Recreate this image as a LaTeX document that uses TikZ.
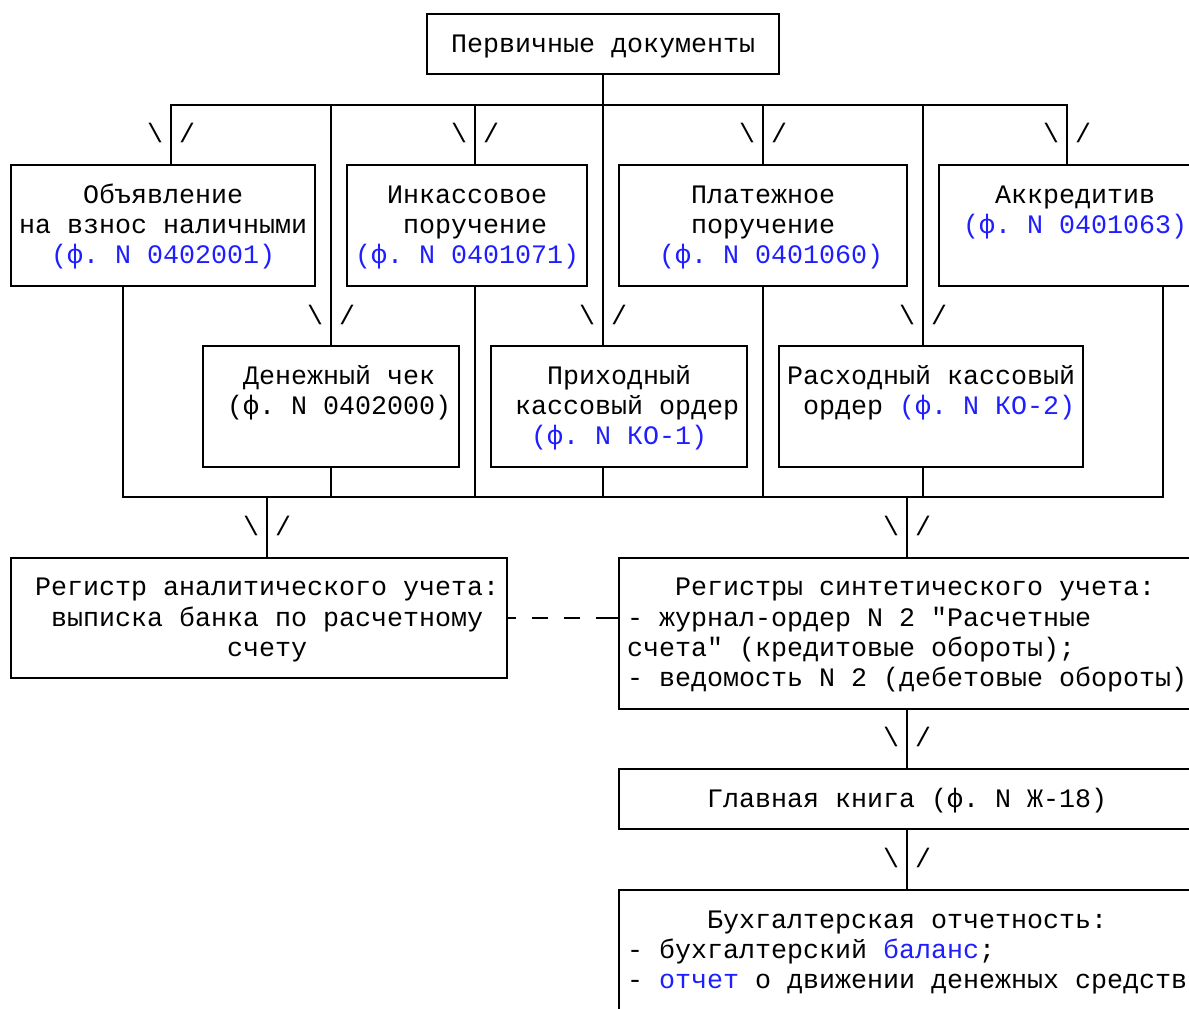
\documentclass[tikz,border=0pt]{standalone}
\usepackage{fontspec}
\newfontfamily\mono{Liberation Mono}
\usepackage{xcolor}
\definecolor{lnk}{RGB}{30,30,255}
\newcommand\mkcoord[3]{\coordinate (#1) at ({10.7+16*(#2)},{14+30.2*(#3)});}
\newcommand\txtl[4]{\node[txt] (#1) at ({2.7+16*(#2)},{22+30.2*(#3)}) {#4};}
\newcommand\arrw[3]{\node[txt] (#1l) at ({2.7+16*(#2-1)},{22+30.2*(#3)}) {\textbackslash};\node[txt] (#1r) at ({2.7+16*(#2+1)},{22+30.2*(#3)}) {/};}
\newcommand\mkbox[5]{\node[boxst, minimum width={8*(#4-#2)*1pt}, minimum height={15.1*(#5-#3)*1pt}] (#1) at ({10.7+8*(#2+#4)},{14+15.1*(#3+#5)}) {};}
\newcommand\lk[1]{\textcolor{lnk}{#1}}
\begin{document}
\frenchspacing
\begin{tikzpicture}[x=0.5pt,y=-0.5pt,
  ln/.style={line width=1pt},
  boxst/.style={draw, line width=1pt, inner sep=0pt, rectangle},
  txt/.style={inner sep=0pt, anchor=base west, font=\mono\fontsize{13.333pt}{15.1pt}\selectfont}]
\useasboundingbox (0,0) rectangle (1189,1008);
\clip (0,0) rectangle (1189,1008);
% boxes
\mkbox{top}{26}{0}{48}{2}
\mkbox{b1}{0}{5}{19}{9}
\mkbox{b2}{21}{5}{36}{9}
\mkbox{b3}{38}{5}{56}{9}
\mkbox{b4}{58}{5}{74}{9}
\mkbox{c1}{12}{11}{28}{15}
\mkbox{c2}{30}{11}{46}{15}
\mkbox{c3}{48}{11}{67}{15}
\mkbox{d1}{0}{18}{31}{22}
\mkbox{d2}{38}{18}{74}{23}
\mkbox{e1}{38}{25}{74}{27}
\mkbox{f1}{38}{29}{74}{34}
% texts
\txtl{t0}{28}{1}{Первичные документы}
\txtl{t1a}{5}{6}{Объявление}
\txtl{t1b}{1}{7}{на взнос наличными}
\txtl{t1c}{3}{8}{\lk{(ф. N 0402001)}}
\txtl{t2a}{24}{6}{Инкассовое}
\txtl{t2b}{25}{7}{поручение}
\txtl{t2c}{22}{8}{\lk{(ф. N 0401071)}}
\txtl{t3a}{43}{6}{Платежное}
\txtl{t3b}{43}{7}{поручение}
\txtl{t3c}{41}{8}{\lk{(ф. N 0401060)}}
\txtl{t4a}{62}{6}{Аккредитив}
\txtl{t4b}{60}{7}{\lk{(ф. N 0401063)}}
\txtl{u1a}{15}{12}{Денежный чек}
\txtl{u1b}{14}{13}{(ф. N 0402000)}
\txtl{u2a}{34}{12}{Приходный}
\txtl{u2b}{32}{13}{кассовый ордер}
\txtl{u2c}{33}{14}{\lk{(ф. N КО-1)}}
\txtl{u3a}{49}{12}{Расходный кассовый}
\txtl{u3b}{50}{13}{ордер \lk{(ф. N КО-2)}}
\txtl{v1a}{2}{19}{Регистр аналитического учета:}
\txtl{v1b}{3}{20}{выписка банка по расчетному}
\txtl{v1c}{14}{21}{счету}
\txtl{v2a}{42}{19}{Регистры синтетического учета:}
\txtl{v2b}{39}{20}{- журнал-ордер N 2 "Расчетные}
\txtl{v2c}{39}{21}{счета" (кредитовые обороты);}
\txtl{v2d}{39}{22}{- ведомость N 2 (дебетовые обороты)}
\txtl{w1}{44}{26}{Главная книга (ф. N Ж-18)}
\txtl{x1a}{44}{30}{Бухгалтерская отчетность:}
\txtl{x1b}{39}{31}{- бухгалтерский \lk{баланс};}
\txtl{x1c}{39}{32}{- \lk{отчет} о движении денежных средств}
% arrow marks
\arrw{a1}{10}{4}
\arrw{a2}{29}{4}
\arrw{a3}{47}{4}
\arrw{a4}{66}{4}
\arrw{a5}{20}{10}
\arrw{a6}{37}{10}
\arrw{a7}{57}{10}
\arrw{a8}{16}{17}
\arrw{a9}{56}{17}
\arrw{a10}{56}{24}
\arrw{a11}{56}{28}
% upper bus
\mkcoord{j10}{10}{3}
\mkcoord{j29}{29}{3}
\mkcoord{j57}{57}{3}
\mkcoord{j66}{66}{3}
\draw[ln] (top.south) -- (top.south |- c2.north);
\draw[ln] (j10 |- b1.north) -- (j10) -- (j66) -- (b4.north);
\draw[ln] (c1.north |- j10) -- (c1.north);
\draw[ln] (j29) -- (j29 |- b2.north);
\draw[ln] (b3.north |- j10) -- (b3.north);
\draw[ln] (j57) -- (j57 |- c3.north);
% lower bus
\mkcoord{k7}{7}{16}
\mkcoord{k72}{72}{16}
\mkcoord{k29}{29}{16}
\mkcoord{k37}{37}{16}
\mkcoord{k57}{57}{16}
\mkcoord{k16}{16}{16}
\draw[ln] (k7 |- b1.south) -- (k7) -- (k72) -- (k72 |- b4.south);
\draw[ln] (c1.south) -- (c1.south |- k7);
\draw[ln] (k29 |- b2.south) -- (k29);
\draw[ln] (k37 |- c2.south) -- (k37);
\draw[ln] (b3.south) -- (b3.south |- k7);
\draw[ln] (k57 |- c3.south) -- (k57);
\draw[ln] (k16) -- (k16 |- d1.north);
\draw[ln] (d2.north |- k7) -- (d2.north);
\draw[ln] (d2.south) -- (e1.north);
\draw[ln] (e1.south) -- (f1.north);
% dashed link
\draw[ln, dash pattern=on 4pt off 8pt on 8pt off 8pt on 8pt off 8pt on 12pt] (d1.east) -- (d1.east -| d2.west);
\end{tikzpicture}
\end{document}
